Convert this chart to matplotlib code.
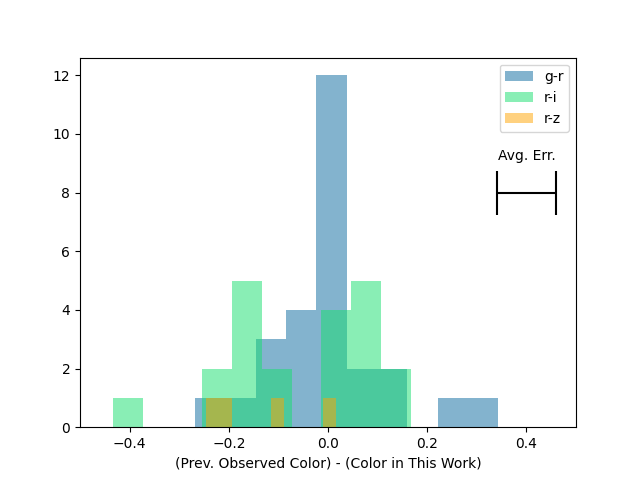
import numpy as np
import matplotlib
matplotlib.use('Agg')
import matplotlib.pyplot as plt

# histogram counts (10 bins per colour)
gr_range = (-0.268, 0.343)
gr_counts = [1, 1, 3, 4, 12, 2, 2, 0, 1, 1]

ri_range = (-0.434, 0.167)
ri_counts = [1, 0, 0, 2, 5, 2, 0, 4, 5, 2]

rz_range = (-0.246, 0.016)
rz_counts = [1, 1, 0, 0, 0, 1, 0, 0, 0, 1]

labels = ['g-r', 'r-i', 'r-z']
colors = ['#09699f', '#15df6d', 'orange']

err_x = 0.4
err_y = 8
err_half = 0.0595


def draw_hist(ax, rng, counts, color, label):
    edges = np.linspace(rng[0], rng[1], len(counts) + 1)
    ax.hist(edges[:-1], bins=edges, weights=counts, color=color,
            alpha=0.5, label=label)


fig, ax = plt.subplots(figsize=(6.4, 4.8), dpi=100)
draw_hist(ax, gr_range, gr_counts, colors[0], labels[0])
draw_hist(ax, ri_range, ri_counts, colors[1], labels[1])
draw_hist(ax, rz_range, rz_counts, colors[2], labels[2])

ax.errorbar([err_x], [err_y], xerr=[err_half], color='black',
            capsize=15.5, elinewidth=1.5, capthick=1.5)
ax.text(err_x, err_y + 1.0, 'Avg. Err.', ha='center', va='bottom')

ax.set_xlim(-0.5, 0.5)
ax.set_xlabel('(Prev. Observed Color) - (Color in This Work)')
ax.legend(loc='upper right')

fig.savefig('out.png')
